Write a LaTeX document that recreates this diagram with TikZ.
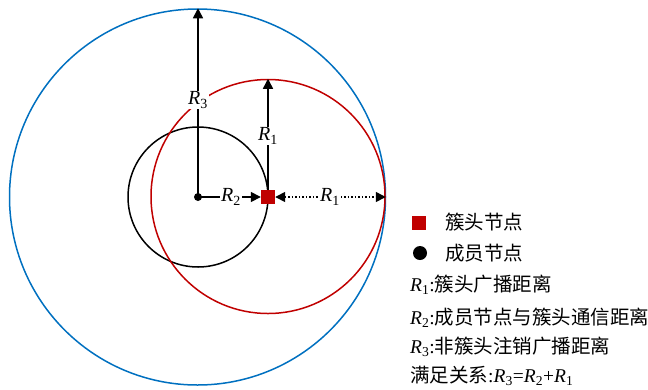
\documentclass[tikz,border=0pt]{standalone}
\usepackage{fontspec}
\setmainfont{Liberation Serif}
\newfontfamily\cjk{Noto Sans CJK SC}
\usetikzlibrary{arrows.meta}
\definecolor{cblue}{RGB}{0,112,192}
\definecolor{cred}{RGB}{192,0,0}
\newcommand\RR[1]{\textit{R}\textsubscript{#1}}
\begin{document}
\begin{tikzpicture}[x=1pt,y=-1pt,
  ring/.style={circle,draw,line width=1.5pt,inner sep=0pt},
  arr/.style={line width=1.5pt,-{Triangle[length=10pt,width=10pt]}},
  darr/.style={line width=1.5pt,dotted,{Triangle[length=10pt,width=10pt]}-{Triangle[length=10pt,width=10pt]}},
  lbl/.style={fill=white,inner sep=1pt,font=\fontsize{20}{22}\selectfont},
  legtext/.style={anchor=west,inner sep=0pt,font=\fontsize{19.5}{21}\selectfont},
  redsq/.style={fill=cred,minimum size=14pt,inner sep=0pt},
  blackdot/.style={circle,fill=black,minimum size=14pt,inner sep=0pt}]
\useasboundingbox (0,0) rectangle (648,389);
% circles
\node[ring,draw=cblue,minimum size=376pt] (blue) at (197.5,197) {};
\node[ring,draw=black,minimum size=140pt] (black) at (198,197) {};
\node[ring,draw=cred,minimum size=234pt] (red) at (268,196.5) {};
% centres
\node[circle,fill=black,minimum size=8pt,inner sep=0pt] (O) at (198,197) {};
\node[redsq] (C) at (268,197) {};
% R3
\draw[line width=1.5pt] (O.center) -- (198,130);
\draw[arr] (198,130) -- (blue.north -| O);
\node[lbl] at (198,100) {\RR3};
% R1 vertical
\draw[arr] (C.north) -- (red.north);
\node[lbl] at (268,136) {\RR1};
% R2
\draw[arr] (O.center) -- (C.west);
\node[lbl] at (231,197) {\RR2};
% R1 dotted
\draw[darr] (C.east) -- (red.east |- C);
\node[lbl] at (330,197) {\RR1};
% legend
\node[redsq] (L1) at (419,223) {};
\node[legtext] at (445,222) {\cjk 簇头节点};
\node[blackdot] (L2) at (420,253) {};
\node[legtext] at (445,253) {\cjk 成员节点};
\node[legtext] at (410,285) {\RR1:{\cjk 簇头广播距离}};
\node[legtext] at (410,318) {\RR2:{\cjk 成员节点与簇头通信距离}};
\node[legtext] at (410,347) {\RR3:{\cjk 非簇头注销广播距离}};
\node[legtext] at (410,376) {{\cjk 满足关系}:\RR3=\RR2+\RR1};
\end{tikzpicture}
\end{document}
